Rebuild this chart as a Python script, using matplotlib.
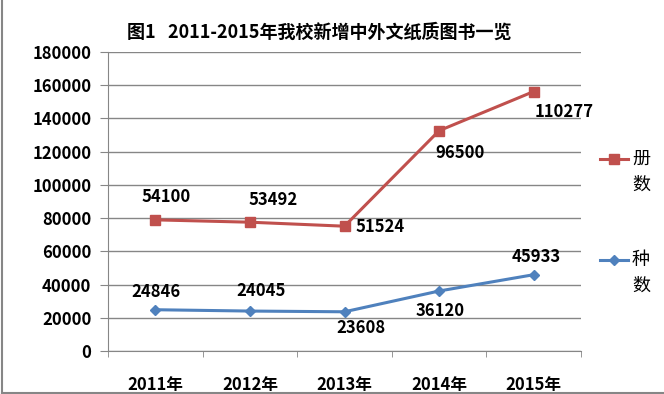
import numpy as np
import matplotlib.pyplot as plt
from matplotlib.lines import Line2D

years = ["2011年", "2012年", "2013年", "2014年", "2015年"]
kinds = [24846, 24045, 23608, 36120, 45933]      # 种数
volumes = [54100, 53492, 51524, 96500, 110277]   # 册数, stacked on top of 种数
yticks = [0, 20000, 40000, 60000, 80000, 100000, 120000, 140000, 160000, 180000]

RED = "#C0504D"
BLUE = "#4F81BD"
GRID = "#868686"
W, H = 664, 394

# label offsets in pixels from the marker
red_off = [(11, 23), (23, 22), (36, -1), (21, -22), (30, -20)]
blue_off = [(1, 18), (11, 20), (16, -16), (1, -20), (2, 18)]

plt.rcParams["font.family"] = ["Noto Sans CJK SC", "DejaVu Sans"]


def fx(px):
    return px / W


def fy(py):
    return 1 - py / H


def main():
    fig = plt.figure(figsize=(W / 100, H / 100), dpi=100)
    ax = fig.add_axes([fx(108), fy(351), (581 - 108) / W, (351 - 52) / H])

    x = np.arange(len(years))
    stacked = np.add(kinds, volumes)

    ax.plot(x, stacked, color=RED, lw=2.2, marker="s", ms=7)
    ax.plot(x, kinds, color=BLUE, lw=2.2, marker="D", ms=5.5)

    for i, (v, s) in enumerate(zip(volumes, stacked)):
        ax.annotate(str(v), (i, s), xytext=red_off[i], textcoords="offset pixels",
                    ha="center", va="center", fontsize=12, fontweight="bold")
    for i, v in enumerate(kinds):
        ax.annotate(str(v), (i, v), xytext=blue_off[i], textcoords="offset pixels",
                    ha="center", va="center", fontsize=12, fontweight="bold")

    ax.set_xlim(-0.5, len(years) - 0.5)
    ax.set_ylim(0, 180000)
    ax.set_yticks(yticks, [str(t) for t in yticks], fontsize=12, fontweight="bold")
    ax.set_xticks(x, years, fontsize=12, fontweight="bold")
    ax.set_xticks(np.arange(-0.5, len(years)), minor=True)
    ax.tick_params(axis="y", length=6, color=GRID, pad=6)
    ax.tick_params(axis="x", which="major", length=0, pad=18)
    ax.tick_params(axis="x", which="minor", length=4, color=GRID)
    ax.yaxis.grid(True, color=GRID, lw=1)
    ax.set_axisbelow(True)
    for side in ("top", "right"):
        ax.spines[side].set_visible(False)
    for side in ("left", "bottom"):
        ax.spines[side].set_color(GRID)

    fig.text(fx(319), fy(32), "图1   2011-2015年我校新增中外文纸质图书一览",
             ha="center", va="center", fontsize=13, fontweight="bold")

    # legend, drawn by hand like the Excel one
    for col, mk, ms, y0, name in [(RED, "s", 7, 159, "册"), (BLUE, "D", 5.5, 260, "种")]:
        fig.add_artist(Line2D([fx(600), fx(628)], [fy(y0)] * 2, color=col, lw=2.2))
        fig.add_artist(Line2D([fx(614)], [fy(y0)], color=col, marker=mk, ms=ms))
        fig.text(fx(632), fy(y0), name, va="center", fontsize=13)
        fig.text(fx(632), fy(y0 + 26), "数", va="center", fontsize=13)

    # frame of the chart area: only left and bottom edges are visible
    fig.add_artist(Line2D([fx(1.5), fx(1.5)], [fy(0), fy(392.5)], color=GRID, lw=1.5))
    fig.add_artist(Line2D([fx(1.5), fx(W)], [fy(392.5), fy(392.5)], color=GRID, lw=1.5))
    fig.savefig("out.png", dpi=100)


if __name__ == "__main__":
    main()
